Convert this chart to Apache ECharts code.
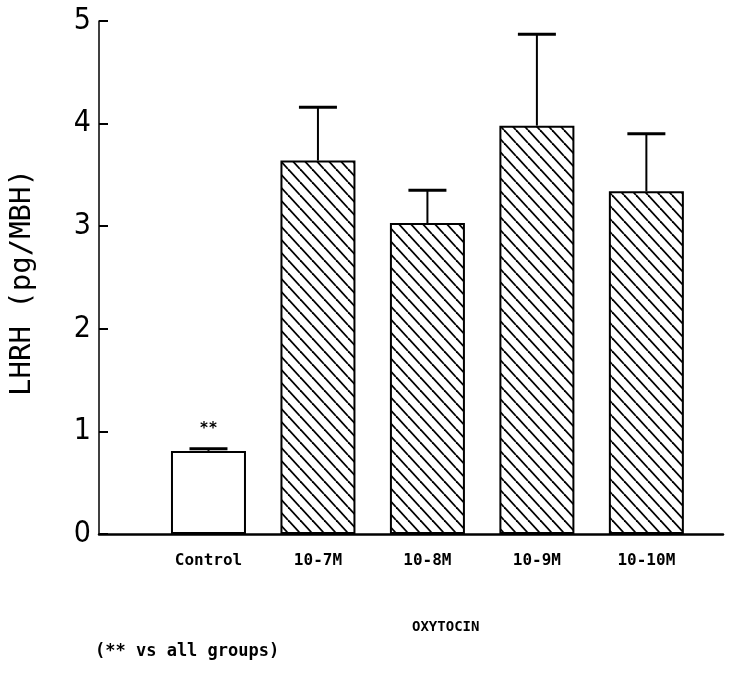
<!DOCTYPE html>
<html>
<head>
<meta charset="utf-8">
<script src="https://cdn.jsdelivr.net/npm/echarts@6/dist/echarts.min.js"></script>
<style>
  html, body { margin: 0; padding: 0; background: #fff; }
  #chart { width: 734px; height: 676px; }
</style>
</head>
<body>
<div id="chart"></div>
<script>
// LHRH bar chart with error bars (oxytocin groups)

var categories = ['Control', '10-7M', '10-8M', '10-9M', '10-10M'];
var positions = [1, 2, 3, 4, 5];
var means = [0.81, 3.64, 3.03, 3.98, 3.34];
var upper = [0.83, 4.16, 3.35, 4.87, 3.90];
var marks = ['**', '', '', '', ''];
var yTicks = [0, 1, 2, 3, 4, 5];

var mono = '"DejaVu Sans Mono", monospace';
var narrow = '"Liberation Sans Narrow", "DejaVu Sans Condensed", sans-serif';

// diagonal hatch tile (\\\)
function hatch() {
    var c = document.createElement('canvas');
    var w = 12, h = 13;
    c.width = w; c.height = h;
    var ctx = c.getContext('2d');
    ctx.fillStyle = '#fff';
    ctx.fillRect(0, 0, w, h);
    ctx.strokeStyle = '#000';
    ctx.lineWidth = 1.8;
    for (var k = -1; k <= 1; k++) {
        ctx.beginPath();
        ctx.moveTo(k * w, 0);
        ctx.lineTo(k * w + w, h);
        ctx.stroke();
    }
    return c;
}
var hatchFill = { image: hatch(), repeat: 'repeat' };

var barData = positions.map(function (p, i) {
    return {
        value: [p, means[i]],
        itemStyle: { color: i === 0 ? '#fff' : hatchFill }
    };
});
var errData = positions.map(function (p, i) {
    return [p, means[i], upper[i]];
});

var dom = document.getElementById('chart');
var myChart = echarts.init(dom, null, { renderer: 'canvas' });

var option = {
    animation: false,
    backgroundColor: '#fff',
    grid: { left: 95, right: 11, top: 21, bottom: 142, containLabel: false },
    xAxis: {
        type: 'value',
        min: 0,
        max: 5.7,
        interval: 1,
        axisLine: { show: true, lineStyle: { color: '#000', width: 2.5 } },
        axisTick: { show: false },
        splitLine: { show: false },
        axisLabel: {
            showMinLabel: false,
            showMaxLabel: false,
            margin: 19,
            color: '#000',
            fontFamily: mono,
            fontWeight: 'bold',
            fontSize: 16,
            formatter: function (v) { return categories[v - 1] || ''; }
        }
    },
    yAxis: {
        type: 'value',
        min: yTicks[0],
        max: yTicks[yTicks.length - 1],
        interval: 1,
        name: 'LHRH (pg/MBH)',
        nameLocation: 'middle',
        nameRotate: 90,
        nameGap: 62,
        nameTextStyle: { fontFamily: mono, fontSize: 29, color: '#000', padding: [0, 10, 0, 0] },
        axisLine: { show: true, lineStyle: { color: '#000', width: 1.5 } },
        axisTick: { show: true, inside: true, length: 9, lineStyle: { color: '#000', width: 2 } },
        splitLine: { show: false },
        axisLabel: {
            margin: 8,
            color: '#000',
            fontFamily: narrow,
            fontSize: 30
        }
    },
    series: [
        {
            type: 'bar',
            data: barData,
            barWidth: 75,
            itemStyle: { borderColor: '#000', borderWidth: 2 },
            label: {
                show: true,
                position: 'top',
                distance: 14,
                color: '#000',
                fontFamily: mono,
                fontWeight: 'bold',
                fontSize: 15,
                formatter: function (p) { return marks[p.dataIndex]; }
            },
            z: 2
        },
        {
            type: 'custom',
            data: errData,
            z: 3,
            renderItem: function (params, api) {
                var base = api.coord([api.value(0), api.value(1)]);
                var top = api.coord([api.value(0), api.value(2)]);
                var half = 19;
                return {
                    type: 'group',
                    children: [
                        {
                            type: 'line',
                            shape: { x1: top[0], y1: base[1], x2: top[0], y2: top[1] },
                            style: { stroke: '#000', lineWidth: 2 }
                        },
                        {
                            type: 'line',
                            shape: { x1: top[0] - half, y1: top[1], x2: top[0] + half, y2: top[1] },
                            style: { stroke: '#000', lineWidth: 3 }
                        }
                    ]
                };
            }
        }
    ],
    graphic: [
        {
            type: 'text',
            left: 412,
            top: 620,
            style: { text: 'OXYTOCIN', fill: '#000', font: 'bold 14px ' + mono }
        },
        {
            type: 'text',
            left: 95,
            top: 643,
            style: { text: '(** vs all groups)', fill: '#000', font: 'bold 17px ' + mono }
        }
    ]
};

myChart.setOption(option);
window.addEventListener('resize', myChart.resize);
</script>
</body>
</html>
